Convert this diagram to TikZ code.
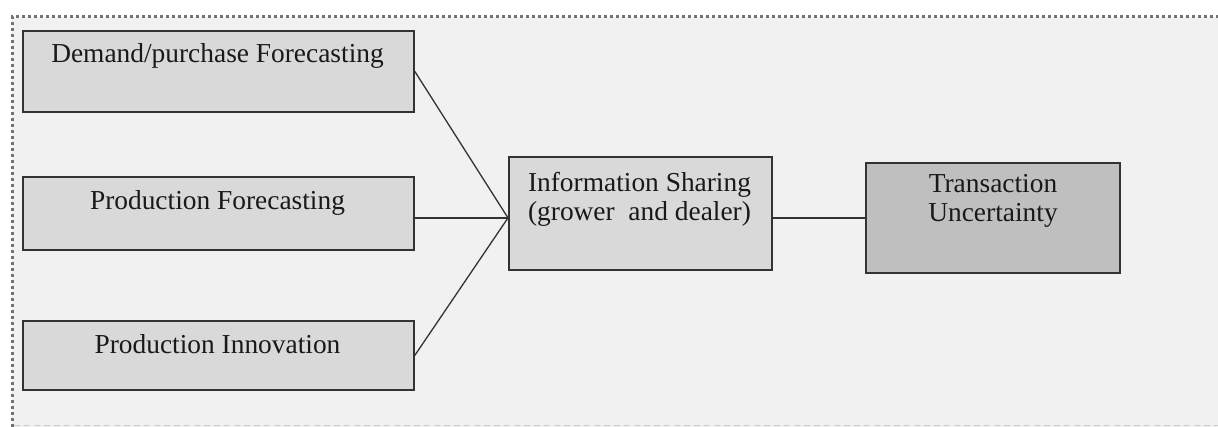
\documentclass[tikz,border=0pt]{standalone}
\usepackage{fontspec}
\setmainfont{Liberation Serif}
\begin{document}
\begin{tikzpicture}[x=1pt,y=-1pt,
  box/.style={draw=black!80, line width=1.8pt, fill=boxfill, inner sep=0pt, anchor=north west},
  lbl/.style={font=\fontsize{27.4}{29.5}\selectfont, align=center, anchor=base, inner sep=0pt, text=black!90},
  conn/.style={draw=black!80, line width=1.3pt}]
\definecolor{boxfill}{HTML}{D9D9D9}
\definecolor{darkfill}{HTML}{BFBFBF}
\definecolor{bgfill}{HTML}{F1F1F1}
\useasboundingbox (0,0) rectangle (1218,427);
\fill[bgfill] (12,17) rectangle (1218,427);
\draw[black!55, line width=3pt, dash pattern=on 3pt off 3pt] (12,427) -- (12,17) -- (1218,17);
\draw[black!20, line width=1pt, dash pattern=on 6pt off 4pt] (14,425.5) -- (1218,425.5);
% boxes
\node[box, minimum width=391pt, minimum height=81pt] (d) at (22,30) {};
\node[box, minimum width=391pt, minimum height=73pt] (p) at (22,176) {};
\node[box, minimum width=391pt, minimum height=69pt] (n) at (22,320) {};
\node[box, minimum width=263pt, minimum height=113pt] (i) at (508,156) {};
\node[box, fill=darkfill, minimum width=254pt, minimum height=110pt] (t) at (865,162) {};
% texts
\node[lbl] (dt) at (217.5,63) {Demand/purchase Forecasting};
\node[lbl] (pt) at (217.5,210) {Production Forecasting};
\node[lbl] (nt) at (217.5,354) {Production Innovation};
\node[lbl] (it) at (639.5,221) {Information Sharing\\(grower\ \ and dealer)};
\node[lbl] (tt) at (993,222) {Transaction\\Uncertainty};
% connectors
\coordinate (m) at (i.west |- t.west);
\draw[conn] (d.east) -- (m);
\draw[conn] (p.east |- t.west) -- (m);
\draw[conn] (n.east) -- (m);
\draw[conn] (i.east |- t.west) -- (t.west);
\end{tikzpicture}
\end{document}
